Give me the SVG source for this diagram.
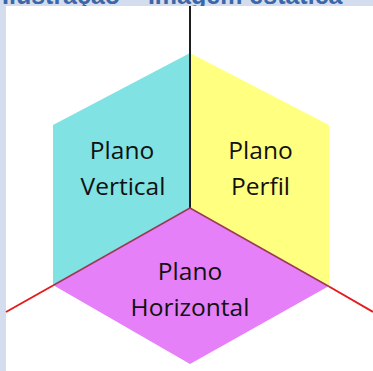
<svg xmlns="http://www.w3.org/2000/svg" width="373" height="371" viewBox="0 0 373 371">
<style>
.lbl{font-family:"Open Sans","Liberation Sans",sans-serif;font-size:24.5px;fill:#111;text-anchor:middle}
.title{font-family:"Liberation Sans",Arial,sans-serif;font-weight:bold;font-size:25px;fill:#3A67A8}
.axis{stroke:#1E1E1E;stroke-width:2;fill:none}
.red{stroke:#E31C1C;stroke-width:2;fill:none}
.redin{stroke:#9A3A55;stroke-width:1.5;fill:none}
</style>
<rect x="0" y="0" width="373" height="371" fill="#D3DDEE"/>
<text class="title" x="2" y="3.5">Ilustração – Imagem estática</text>
<rect x="6" y="6" width="367" height="365" fill="#FFFFFF"/>
<g id="plano-vertical">
<polygon points="190,53 53,125 53,285 190,208" fill="#80E2E2"/>
<text class="lbl" x="122" y="159">Plano</text>
<text class="lbl" x="123" y="195">Vertical</text>
</g>
<g id="plano-perfil">
<polygon points="190,53 329,125 329,286 190,208" fill="#FFFF80"/>
<text class="lbl" x="260.5" y="159">Plano</text>
<text class="lbl" x="260.5" y="195">Perfil</text>
</g>
<g id="plano-horizontal">
<polygon points="190,208 53,285 190,364 329,286" fill="#E680F8"/>
<text class="lbl" x="190" y="280">Plano</text>
<text class="lbl" x="190" y="316">Horizontal</text>
</g>
<g id="connectors">
<line class="axis" x1="190" y1="6" x2="190" y2="208"/>
<line class="red" x1="6" y1="312" x2="53" y2="285.5"/>
<line class="redin" x1="53" y1="285.5" x2="190" y2="208"/>
<line class="redin" x1="190" y1="208" x2="329" y2="286.5"/>
<line class="red" x1="329" y1="286.5" x2="373" y2="312"/>
</g>
</svg>
